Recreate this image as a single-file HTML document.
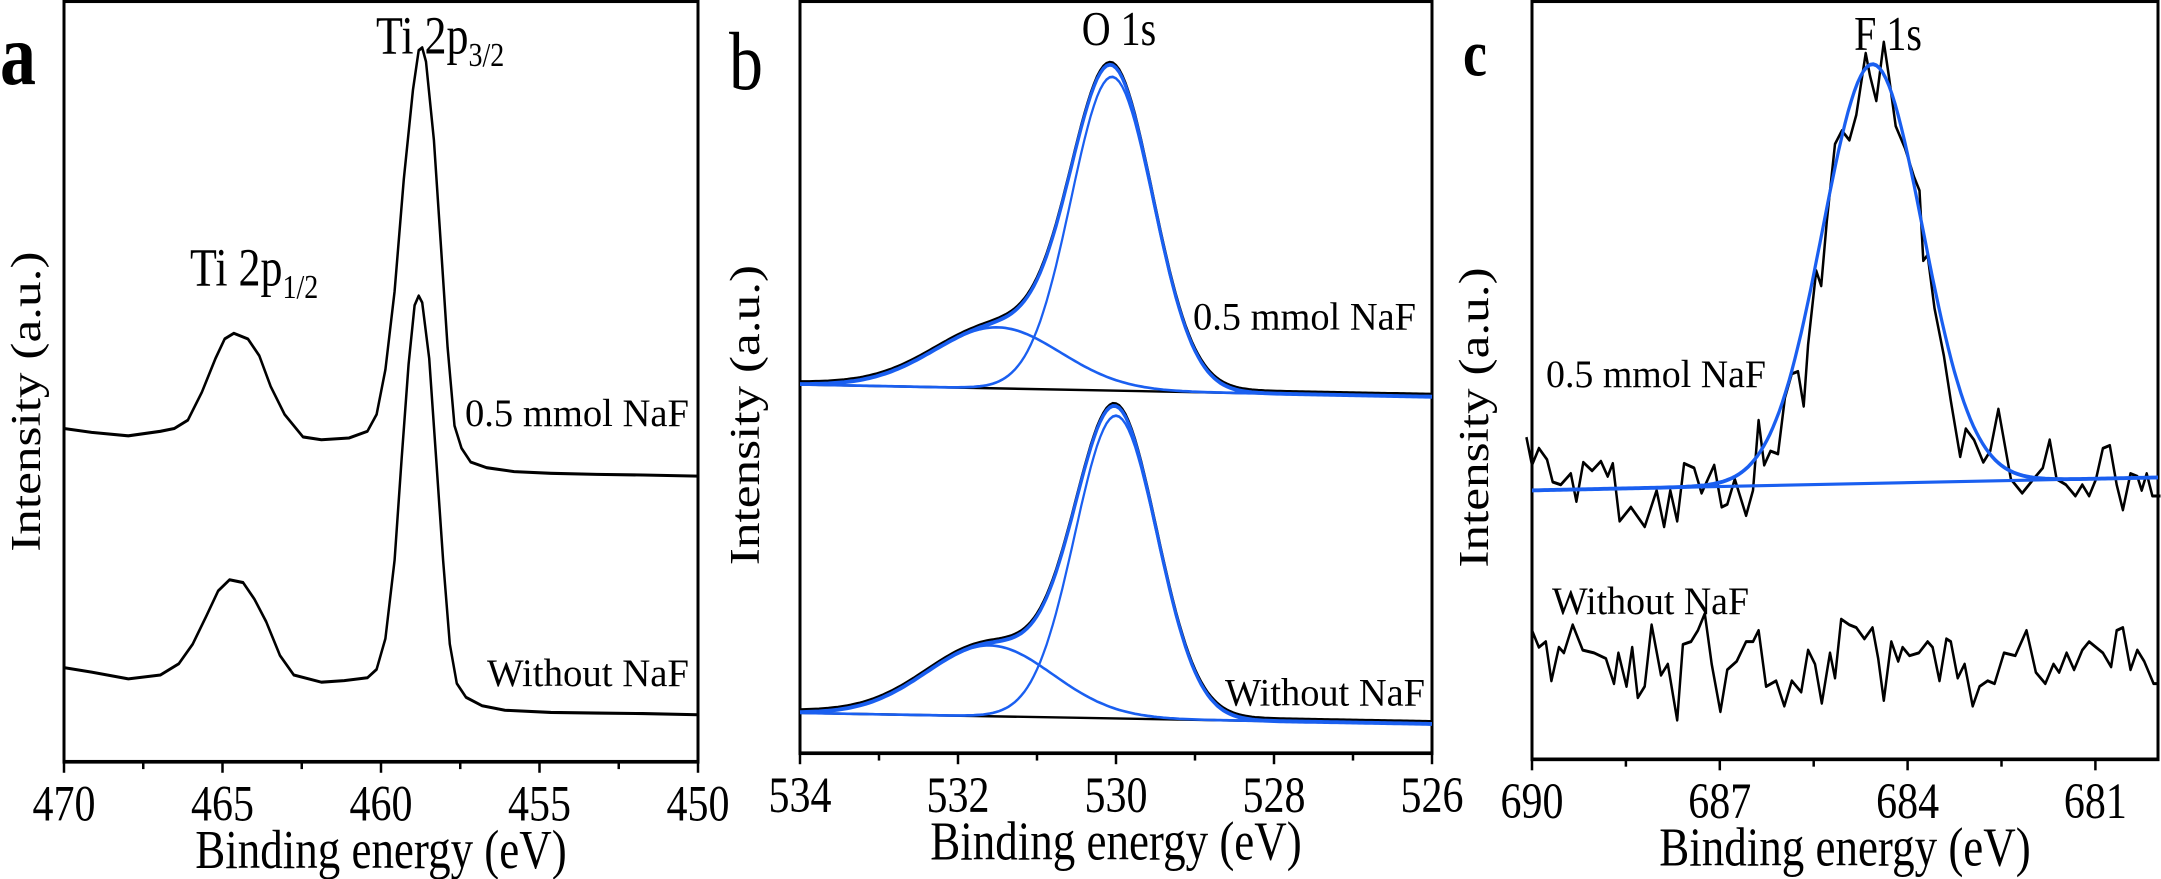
<!DOCTYPE html>
<html><head><meta charset="utf-8"><style>
html,body{margin:0;padding:0;background:#fff;}
svg{display:block;font-family:"Liberation Serif",serif;}
</style></head><body>
<svg id="fig" width="2161" height="879" viewBox="0 0 2161 879" xmlns="http://www.w3.org/2000/svg">
<g transform="scale(1,1.2208)">
<g id="pa"></g>
<g id="pb"></g>
<g id="pc"></g>
<text x="0" y="69" font-size="72" font-weight="bold">a</text>
<text x="729" y="73" font-size="68">b</text>
<text x="1463" y="62" font-size="54" font-weight="bold">c</text>
<text x="376" y="44" font-size="44">Ti 2p<tspan font-size="28" dy="10">3/2</tspan></text>
<text x="190" y="234" font-size="44">Ti 2p<tspan font-size="28" dy="10">1/2</tspan></text>
<text x="1119" y="37" font-size="40" text-anchor="middle">O 1s</text>
<text x="1888" y="41" font-size="40" text-anchor="middle">F 1s</text>
<text x="465" y="349" font-size="32" textLength="224" lengthAdjust="spacingAndGlyphs">0.5 mmol NaF</text>
<text x="487" y="562" font-size="32" textLength="202" lengthAdjust="spacingAndGlyphs">Without NaF</text>
<text x="1193" y="270" font-size="32" textLength="223" lengthAdjust="spacingAndGlyphs">0.5 mmol NaF</text>
<text x="1225" y="578" font-size="32" textLength="200" lengthAdjust="spacingAndGlyphs">Without NaF</text>
<text x="1546" y="317" font-size="32" textLength="220" lengthAdjust="spacingAndGlyphs">0.5 mmol NaF</text>
<text x="1552" y="503" font-size="32" textLength="197" lengthAdjust="spacingAndGlyphs">Without NaF</text>
</g>
</svg>
<script>
// ---- Panel a data (Ti 2p) ----
const aTopE=[470,469.13,467.97,466.96,466.52,466.09,465.65,465.22,464.93,464.64,464.20,463.84,463.48,463.04,462.46,461.88,461.01,460.43,460.14,459.86,459.57,459.28,458.99,458.81,458.70,458.58,458.33,458.12,457.90,457.68,457.46,457.17,456.67,455.80,454.64,453.19,451.74,450.00];
const aTopI=[595,588,582,590,595,610,660,720,755,765,755,725,670,620,580,575,578,590,620,700,840,1040,1200,1270,1275,1250,1110,930,740,600,560,535,525,518,515,513,512,510];
const aBotE=[470,469.13,467.97,466.96,466.38,465.94,465.51,465.14,464.78,464.35,463.99,463.62,463.19,462.75,461.88,461.16,460.43,460.14,459.86,459.57,459.35,459.13,458.94,458.81,458.70,458.48,458.26,458.04,457.83,457.61,457.32,456.81,456.09,454.64,453.19,451.74,450.00];
const aBotI=[168,160,148,155,175,210,260,305,325,320,290,250,190,155,142,145,150,165,220,360,540,710,815,832,820,720,540,360,210,140,115,100,92,88,87,86,84];
const aTicks=[470,465,460,455,450];
// ---- Panel b data (O 1s fits) ----
const bTopBase=[302,292];
const bTopCenters=[530.05,531.5];
const bTopHeights=[257,50];
const bTopSigmas=[0.52,0.8];
const bBotBase=[33,24];
const bBotCenters=[530.0,531.6];
const bBotHeights=[248,58];
const bBotSigmas=[0.52,0.8];
const bTicks=[534,532,530,528,526];
// ---- Panel c data (F 1s) ----
const cTopE=[690.09,690.00,689.89,689.76,689.67,689.54,689.38,689.29,689.18,689.04,688.90,688.79,688.71,688.60,688.42,688.20,688.01,687.89,687.79,687.68,687.57,687.41,687.29,687.19,687.09,686.97,686.88,686.76,686.58,686.47,686.38,686.29,686.19,686.07,685.96,685.85,685.75,685.66,685.59,685.46,685.38,685.29,685.16,685.05,684.93,684.82,684.67,684.60,684.50,684.38,684.30,684.19,684.04,683.90,683.81,683.75,683.68,683.57,683.42,683.31,683.16,683.07,682.94,682.79,682.68,682.55,682.35,682.17,681.99,681.84,681.73,681.62,681.47,681.32,681.21,681.10,680.99,680.88,680.77,680.66,680.56,680.44,680.33,680.26,680.18,680.09,679.96];
const cTopI=[575,525,555,535,495,490,510,460,530,515,532,505,528,425,450,415,480,415,480,425,528,520,475,500,525,450,455,500,435,480,605,525,550,545,645,688,692,630,740,872,845,960,1098,1122,1105,1150,1260,1220,1175,1280,1220,1130,1090,1040,1015,890,900,805,720,640,540,590,570,530,550,625,500,475,500,520,570,500,490,470,490,470,500,555,560,490,445,510,505,480,510,470,470];
const cBotE=[690.00,689.89,689.78,689.69,689.57,689.49,689.35,689.19,689.01,688.82,688.69,688.62,688.49,688.40,688.31,688.20,688.09,687.94,687.83,687.68,687.59,687.46,687.35,687.24,687.13,686.99,686.88,686.73,686.58,686.47,686.38,686.26,686.10,685.97,685.85,685.70,685.59,685.48,685.37,685.24,685.16,685.06,684.93,684.82,684.69,684.56,684.47,684.38,684.26,684.15,684.08,683.97,683.82,683.68,683.60,683.49,683.38,683.31,683.20,683.09,682.96,682.85,682.72,682.61,682.46,682.28,682.10,681.95,681.80,681.67,681.58,681.46,681.34,681.21,681.10,680.99,680.88,680.75,680.66,680.56,680.44,680.33,680.22,680.07,680.00];
const cBotI=[230,200,210,140,200,190,240,195,190,180,135,190,130,200,110,130,240,150,170,70,205,210,230,260,170,85,160,175,210,210,230,130,140,95,140,120,195,170,100,190,145,250,240,235,215,235,180,105,210,175,200,185,190,210,200,140,215,210,145,170,95,130,140,135,190,185,230,155,135,170,155,190,160,195,210,200,190,165,230,235,160,195,175,135,135];
const cFitBase=[480,503];
const cFitCenter=[684.56];
const cFitHeight=[748];
const cFitSigma=[0.8];
const cTicks=[690,687,684,681];

const NS="http://www.w3.org/2000/svg";
function mk(parent,tag,attrs){const e=document.createElementNS(NS,tag);for(const k in attrs)e.setAttribute(k,attrs[k]);parent.appendChild(e);return e;}
function lin(d0,d1,r0,r1){return v=>r0+(v-d0)*(r1-r0)/(d1-d0);}
function pathFrom(xs,ys,X,Y){return xs.map((x,i)=>(i?'L':'M')+X(x).toFixed(1)+','+Y(ys[i]).toFixed(1)).join(' ');}

function frame(g,L,R,T,B,X,ticks,minor,yLabelX,yLabelY,name){
  for(const t of minor){const l=mk(g,'line',{x1:X(t),x2:X(t),y1:B,y2:B+6,stroke:'#000','stroke-width':2.5});
    
    }
  for(const t of ticks){const l=mk(g,'line',{x1:X(t),x2:X(t),y1:B,y2:B+9,stroke:'#000','stroke-width':2.5});
    
    
    const tx=mk(g,'text',{x:X(t),y:B+48,'font-size':42,'text-anchor':'middle'});tx.textContent=String(t);
    
    }
  const r=mk(g,'rect',{x:L,y:T,width:R-L,height:B-T,fill:'none',stroke:'#000','stroke-width':3});
  
  
  const xt=mk(g,'text',{x:(L+R)/2,y:B+87,'font-size':45,'text-anchor':'middle'});xt.textContent='Binding energy (eV)';
  
  
  const yt=mk(g,'text',{x:0,y:0,'font-size':42,'text-anchor':'middle',transform:`translate(${yLabelX},${yLabelY}) rotate(-90)`,textLength:246,lengthAdjust:'spacingAndGlyphs'});
  yt.textContent='Intensity (a.u.)';
  
  
}

// Panel a
(function(){
  const g=document.getElementById('pa');
  const X=lin(470,450,64,698), Y=lin(0,1360,624,0);
  frame(g,64,698,1,624,X,aTicks,[467.5,462.5,457.5,452.5],40,329,'panel-a');
  let p=mk(g,'path',{d:pathFrom(aTopE,aTopI,X,Y),fill:'none',stroke:'#000','stroke-width':2.5,'stroke-linejoin':'round'});
  
  
  p=mk(g,'path',{d:pathFrom(aBotE,aBotI,X,Y),fill:'none',stroke:'#000','stroke-width':2.5,'stroke-linejoin':'round'});
  
  
})();

// Panel b
(function(){
  const g=document.getElementById('pb');
  const X=lin(534,526,800,1432), Y=lin(0,617,617,0);
  frame(g,800,1432,1,617,X,bTicks,[533,531,529,527],759,340,'panel-b');
  const N=200, es=[];for(let i=0;i<=N;i++)es.push(534-8*i/N);
  function spectra(base,cs,hs,ss,tag){
    const bl=e=>base[0]+(base[1]-base[0])*(534-e)/8;
    const comp=k=>e=>hs[k]*Math.exp(-((e-cs[k])**2)/(2*ss[k]*ss[k]));
    const env=es.map(e=>bl(e)+cs.reduce((s,_,k)=>s+comp(k)(e),0));
    let p=mk(g,'path',{d:pathFrom([534,526],base,X,Y),fill:'none',stroke:'#000','stroke-width':2});
    
    
    p=mk(g,'path',{d:pathFrom(es,env.map(v=>v+2),X,Y),fill:'none',stroke:'#000','stroke-width':2.5});
    
    
    cs.forEach((c,k)=>{const f=comp(k);
      const q=mk(g,'path',{d:pathFrom(es,es.map(e=>bl(e)+f(e)),X,Y),fill:'none',stroke:'#1a5ff0','stroke-width':2.2});
      
      });
    p=mk(g,'path',{d:pathFrom(es,env,X,Y),fill:'none',stroke:'#1a5ff0','stroke-width':3.2});
    
    
  }
  spectra(bTopBase,bTopCenters,bTopHeights,bTopSigmas,'naf');
  spectra(bBotBase,bBotCenters,bBotHeights,bBotSigmas,'without');
})();

// Panel c
(function(){
  const g=document.getElementById('pc');
  const X=lin(690,680,1532,2158), Y=lin(0,1355,622,0);
  frame(g,1532,2158,1,622,X,cTicks,[688.5,685.5,682.5],1488,342,'panel-c');
  let p=mk(g,'path',{d:pathFrom(cTopE,cTopI,X,Y),fill:'none',stroke:'#000','stroke-width':2.5,'stroke-linejoin':'round'});
  
  
  p=mk(g,'path',{d:pathFrom(cBotE,cBotI,X,Y),fill:'none',stroke:'#000','stroke-width':2.5,'stroke-linejoin':'round'});
  
  
  const bl=e=>cFitBase[0]+(cFitBase[1]-cFitBase[0])*(690-e)/10;
  p=mk(g,'path',{d:pathFrom([690,680],cFitBase,X,Y),fill:'none',stroke:'#1a5ff0','stroke-width':2.5});
  
  
  const es=[];for(let i=0;i<=200;i++)es.push(690-10*i/200);
  const fit=es.map(e=>bl(e)+cFitHeight[0]*Math.exp(-((e-cFitCenter[0])**2)/(2*cFitSigma[0]**2)));
  p=mk(g,'path',{d:pathFrom(es,fit,X,Y),fill:'none',stroke:'#1a5ff0','stroke-width':3.2});
  
  
})();
</script>
</body></html>
